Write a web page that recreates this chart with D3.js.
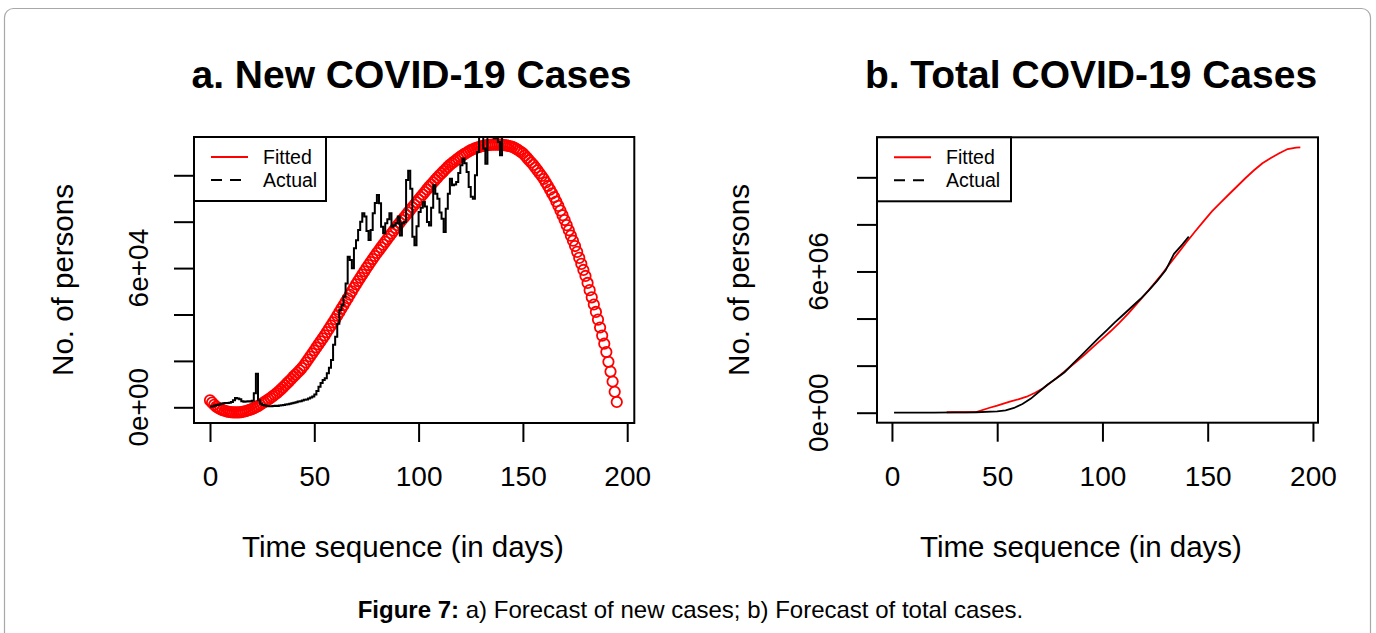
<!DOCTYPE html>
<html><head><meta charset="utf-8">
<script src="https://cdn.jsdelivr.net/npm/d3@7"></script>
<style>
body{margin:0;background:#fff}
svg{display:block}
text{font-family:"Liberation Sans",Arial,Helvetica,sans-serif;fill:#000}
</style>
</head><body>
<svg id="c" width="1376" height="633"></svg>
<script>
// ---------- data ----------
const xTicks = [0, 50, 100, 150, 200];
const yTicksNew = [0, 20000, 40000, 60000, 80000, 100000];
const yTickLabelsNew = ["0e+00", "", "", "6e+04", "", ""];
const yTicksTotal = [0, 2e6, 4e6, 6e6, 8e6, 1e7];
const yTickLabelsTotal = ["0e+00", "", "", "6e+06", "", ""];
const legendLabels = ["Fitted", "Actual"];
const titles = ["a. New COVID-19 Cases", "b. Total COVID-19 Cases"];

// Panel a: fitted new cases (thousands), one value per day starting at day 0
const newFittedK = [3.0,2.0,1.1,0.3,-0.3,-0.8,-1.2,-1.5,-1.8,-2.0,-2.1,-2.2,-2.2,-2.2,-2.2,-2.1,-1.9,-1.7,-1.4,-1.1,
-0.8,-0.4,0.0,0.5,1.1,1.7,2.2,2.8,3.4,4.0,4.7,5.4,6.1,6.9,7.7,8.6,9.5,10.4,11.3,12.2,
13.2,14.1,15.0,15.9,16.9,18.0,19.3,20.6,21.9,23.2,24.5,25.8,27.1,28.4,29.7,31.0,32.4,33.8,35.2,36.6,
38.0,39.5,41.0,42.5,44.0,45.5,47.0,48.5,50.0,51.5,53.0,54.4,55.8,57.2,58.6,60.0,61.3,62.6,63.9,65.2,
66.5,67.7,68.9,70.1,71.3,72.5,73.7,74.9,76.1,77.3,78.5,79.6,80.7,81.8,82.9,84.0,85.1,86.2,87.3,88.4,
89.5,90.6,91.7,92.8,93.9,95.0,96.0,97.0,98.0,99.0,100.0,100.9,101.8,102.7,103.6,104.5,105.2,105.9,106.6,107.3,
108.0,108.6,109.2,109.7,110.3,110.8,111.2,111.6,111.9,112.2,112.5,112.7,112.9,113.0,113.1,113.2,113.2,113.2,113.2,113.2,
113.2,113.0,112.9,112.7,112.5,112.3,111.8,111.3,110.7,110.1,109.5,108.5,107.5,106.5,105.5,104.5,103.3,102.1,100.9,99.7,
98.4,96.9,95.4,93.8,92.2,90.6,88.7,86.8,84.8,82.8,80.7,78.5,76.3,74.0,71.8,69.5,67.0,64.4,61.8,59.2,
56.6,53.6,50.5,47.4,44.3,41.1,37.8,34.4,30.9,27.4,23.8,19.6,15.4,11.1,6.7,2.3];

// Panel a: actual new cases (thousands), one value per day starting at day 0
const newActualK = [0.3,0.5,0.8,1.0,1.2,1.5,1.7,1.8,1.9,2.0,2.3,3.0,4.0,3.8,3.5,2.6,2.4,2.5,2.6,2.5,
2.8,6.0,14.5,3.0,1.5,1.0,0.8,0.6,0.5,0.5,0.6,0.7,0.6,0.8,0.9,1.0,1.2,1.3,1.5,1.7,
2.0,2.2,2.5,2.6,2.9,3.2,3.4,3.8,4.2,4.6,5.5,7.0,8.9,10.5,11.8,12.5,14.7,17.0,20.4,27.0,
30.4,36.0,41.9,44.0,47.7,53.4,64.9,63.5,59.9,68.5,72.0,76.4,80.0,83.6,82.2,76.0,72.1,76.4,83.6,88.0,
91.5,87.9,77.8,75.0,79.3,81.0,83.6,77.8,78.5,79.3,82.2,74.0,79.3,79.9,98.0,102.0,94.2,73.5,69.8,78.0,
84.2,86.0,88.5,86.5,79.9,78.4,86.0,95.7,92.0,89.9,84.0,81.3,75.6,85.6,92.0,98.5,95.7,96.0,97.1,101.0,
104.3,107.2,105.2,101.4,95.0,90.8,89.9,100.0,110.0,119.0,118.0,111.5,105.0,118.0,120.0,119.0,116.0,118.0,114.3,108.6,
117.0];

// Panel b: fitted total cases (millions)
const totalFittedDays = [26,30,35,40,46,50,56,60,64,68,72,76,80,84,88,92,96,100,104,108,112,116,120,124,128,132,136,140,144,148,152,156,160,164,168,172,176,180,184,188,192,194];
const totalFittedM = [0.02,0.02,0.02,0.03,0.2,0.3,0.47,0.57,0.68,0.85,1.05,1.32,1.6,1.9,2.19,2.5,2.83,3.15,3.47,3.82,4.19,4.59,5.0,5.42,5.86,6.33,6.79,7.25,7.7,8.13,8.55,8.91,9.27,9.62,9.97,10.3,10.6,10.82,11.02,11.2,11.26,11.27];

// Panel b: actual total cases (millions)
const totalActualDays = [1,10,20,30,40,50,54,58,62,66,70,74,78,82,86,90,94,98,102,106,110,114,118,122,126,130,134,138,141];
const totalActualM = [0,0,0.005,0.01,0.02,0.06,0.1,0.2,0.37,0.6,0.9,1.2,1.45,1.72,2.08,2.44,2.8,3.16,3.5,3.85,4.17,4.5,4.83,5.2,5.6,6.05,6.75,7.15,7.48];

// ---------- drawing ----------
const svg = d3.select("#c");

// outer frame
svg.append("rect").attr("x",4.5).attr("y",8.5).attr("width",1366).attr("height",700)
  .attr("rx",9).attr("fill","none").attr("stroke","#a8a8a8").attr("stroke-width",1.2);

function panel(cfg){
  const g = svg.append("g");
  const x = d3.scaleLinear().domain(cfg.xDomain).range([cfg.left, cfg.right]);
  const y = d3.scaleLinear().domain(cfg.yDomain).range([cfg.bottom, cfg.top]);
  const clipId = "clip" + cfg.id;
  svg.append("defs").append("clipPath").attr("id", clipId).append("rect")
    .attr("x", cfg.left).attr("y", cfg.top).attr("width", cfg.right-cfg.left).attr("height", cfg.bottom-cfg.top);
  const plot = g.append("g").attr("clip-path", `url(#${clipId})`);
  cfg.draw(plot, x, y);

  // box
  g.append("rect").attr("x",cfg.left).attr("y",cfg.top).attr("width",cfg.right-cfg.left).attr("height",cfg.bottom-cfg.top)
    .attr("fill","none").attr("stroke","#000").attr("stroke-width",2);

  // x axis
  const xa = g.append("g").attr("transform",`translate(0,${cfg.bottom})`)
    .call(d3.axisBottom(x).tickValues(xTicks).tickSize(19).tickPadding(24).tickFormat(d3.format("d")));
  xa.select(".domain").remove();
  xa.selectAll("line").attr("stroke","#000").attr("stroke-width",2);
  xa.selectAll("text").attr("font-size",28).attr("font-family","'Liberation Sans',Arial,sans-serif").attr("fill","#000");

  // y axis
  const ya = g.append("g").attr("transform",`translate(${cfg.left},0)`)
    .call(d3.axisLeft(y).tickValues(cfg.yTicks).tickSize(20).tickFormat(""));
  ya.select(".domain").remove();
  ya.selectAll("line").attr("stroke","#000").attr("stroke-width",2);
  g.selectAll(".ylab").data(cfg.yTicks.map((v,i)=>({v, t: cfg.yLabels[i]})).filter(d=>d.t))
    .join("text").attr("font-size",28).attr("text-anchor","middle")
    .attr("transform", d=>`translate(${cfg.yTickBase},${y(d.v)}) rotate(-90)`).text(d=>d.t);

  // titles and axis labels
  g.append("text").attr("x",cfg.titleX).attr("y",88).attr("text-anchor","middle")
    .attr("font-size",39).attr("font-weight","bold").text(cfg.title);
  g.append("text").attr("x",cfg.xLabelX).attr("y",557).attr("text-anchor","middle")
    .attr("font-size",29.5).text("Time sequence (in days)");
  g.append("text").attr("transform",`translate(${cfg.yLabelBase},280) rotate(-90)`).attr("text-anchor","middle")
    .attr("font-size",29.5).text("No. of persons");

  // legend
  const L = cfg.left;
  g.append("rect").attr("x",L).attr("y",cfg.top).attr("width",cfg.legendW).attr("height",64)
    .attr("fill","#fff").attr("stroke","#000").attr("stroke-width",2);
  const rows = [{c:"#ff0000", dash:null}, {c:"#000", dash:"11,8"}];
  rows.forEach((r,i)=>{
    const yy = cfg.top + 20 + i*23;
    g.append("line").attr("x1",L+17).attr("x2",L+54).attr("y1",yy).attr("y2",yy)
      .attr("stroke",r.c).attr("stroke-width",2).attr("stroke-dasharray",r.dash);
    g.append("text").attr("x",L+69).attr("y",yy+7).attr("font-size",19.5).text(legendLabels[i]);
  });
}

// Panel a
panel({
  id:"a", left:194, right:634.3, top:137, bottom:423,
  xDomain:[-7.67,203.4], yDomain:[-6770,116500],
  yTicks:yTicksNew, yLabels:yTickLabelsNew, yTickBase:148, yLabelBase:73,
  title:titles[0], titleX:411.5, xLabelX:403, legendW:132,
  draw:(p,x,y)=>{
    p.append("g").selectAll("circle").data(newFittedK).join("circle")
      .attr("cx",(d,i)=>x(i)).attr("cy",d=>y(d*1000)).attr("r",5.2)
      .attr("fill","none").attr("stroke","#ff0000").attr("stroke-width",1.8);
    p.append("path").datum(newActualK)
      .attr("d", d3.line().x((d,i)=>x(i)).y(d=>y(d*1000)).curve(d3.curveStepAfter))
      .attr("fill","none").attr("stroke","#000").attr("stroke-width",2);
  }
});

// Panel b
panel({
  id:"b", left:877, right:1318, top:137.3, bottom:422.7,
  xDomain:[-7.1,202.4], yDomain:[-0.425e6,11.70e6],
  yTicks:yTicksTotal, yLabels:yTickLabelsTotal, yTickBase:828, yLabelBase:749,
  title:titles[1], titleX:1091, xLabelX:1081, legendW:134,
  draw:(p,x,y)=>{
    p.append("path").datum(totalFittedDays.map((d,i)=>[d,totalFittedM[i]]))
      .attr("d", d3.line().x(d=>x(d[0])).y(d=>y(d[1]*1e6)))
      .attr("fill","none").attr("stroke","#ff0000").attr("stroke-width",1.8);
    p.append("path").datum(totalActualDays.map((d,i)=>[d,totalActualM[i]]))
      .attr("d", d3.line().x(d=>x(d[0])).y(d=>y(d[1]*1e6)))
      .attr("fill","none").attr("stroke","#000").attr("stroke-width",1.8);
  }
});

// caption
const cap = svg.append("text").attr("x",690.5).attr("y",618).attr("text-anchor","middle").attr("font-size",24);
cap.append("tspan").attr("font-weight","bold").text("Figure 7:");
cap.append("tspan").text(" a) Forecast of new cases; b) Forecast of total cases.");
</script>
</body></html>
